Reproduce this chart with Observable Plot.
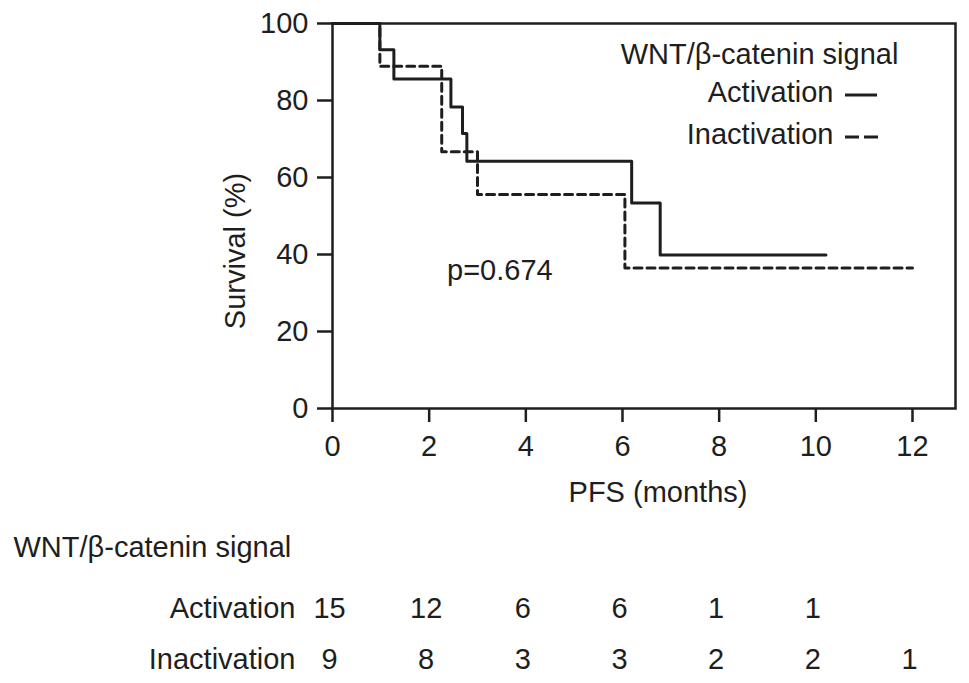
<!DOCTYPE html>
<html>
<head>
<meta charset="utf-8">
<script src="https://cdn.jsdelivr.net/npm/d3@7"></script>
<script src="https://cdn.jsdelivr.net/npm/@observablehq/plot@0.6"></script>
<style>
  html, body { margin: 0; padding: 0; background: #fff; }
</style>
</head>
<body>
<div id="chart"></div>
<script>
// ---- data ----
const activationTime = [0, 0.98, 1.27, 2.45, 2.69, 2.78, 6.19, 6.78, 10.21];
const activationSurv = [100, 93.2, 85.6, 78.3, 71.4, 64.2, 53.4, 39.9, 39.9];
const inactivationTime = [0, 0.98, 2.26, 3.0, 6.05, 12.0];
const inactivationSurv = [100, 88.9, 66.7, 55.6, 36.5, 36.5];

const xTicks = [0, 2, 4, 6, 8, 10, 12];
const yTicks = [0, 20, 40, 60, 80, 100];

const riskTimes = [0, 2, 4, 6, 8, 10, 12];
const activationRisk = [15, 12, 6, 6, 1, 1];
const inactivationRisk = [9, 8, 3, 3, 2, 2, 1];

const groupTitle = "WNT/β-catenin signal";
const groupNames = ["Activation", "Inactivation"];
const xLabel = "PFS (months)";
const yLabel = "Survival (%)";
const pText = "p=0.674";
const pPos = { t: 2.37, s: 35.8 };

// ---- build tables ----
const act = activationTime.map((t, i) => ({ t, s: activationSurv[i] }));
const inact = inactivationTime.map((t, i) => ({ t, s: inactivationSurv[i] }));
const riskAct = activationRisk.map((n, i) => ({ t: riskTimes[i], n }));
const riskInact = inactivationRisk.map((n, i) => ({ t: riskTimes[i], n }));

const ink = "#1e1e1e";
const font = "'Liberation Sans', Arial, Helvetica, sans-serif";
const fs = 29;
const txt = { fontSize: fs, fill: ink, lineAnchor: "middle" };

// legend line samples, positioned relative to the frame
const legendLines = (index, scales, values, dims) => {
  const g = d3.create("svg:g");
  const right = dims.width - dims.marginRight;
  const top = dims.marginTop;
  g.append("line")
    .attr("x1", right - 110).attr("x2", right - 78)
    .attr("y1", top + 72).attr("y2", top + 72)
    .attr("stroke", ink).attr("stroke-width", 3);
  g.append("line")
    .attr("x1", right - 110).attr("x2", right - 77)
    .attr("y1", top + 114).attr("y2", top + 114)
    .attr("stroke", ink).attr("stroke-width", 3)
    .attr("stroke-dasharray", "14,5");
  return g.node();
};

const chart = Plot.plot({
  width: 969,
  height: 683,
  marginLeft: 332,
  marginRight: 14,
  marginTop: 23,
  marginBottom: 275,
  style: { fontFamily: font, fontSize: fs + "px", color: ink, background: "#fff" },
  x: { domain: [0, 12.89] },
  y: { domain: [0, 100] },
  marks: [
    Plot.frame({ stroke: ink, strokeWidth: 2.5 }),
    Plot.axisY({ ticks: yTicks, tickSize: 15, tickPadding: 9, strokeWidth: 2.5, fontSize: fs, label: null }),
    Plot.axisX({ ticks: xTicks, tickSize: 14, tickPadding: 13, strokeWidth: 2.5, fontSize: fs, label: null }),
    Plot.line(inact, { x: "t", y: "s", curve: "step-after", stroke: ink, strokeWidth: 3, strokeDasharray: "8,5" }),
    Plot.line(act, { x: "t", y: "s", curve: "step-after", stroke: ink, strokeWidth: 3 }),
    Plot.text([pPos], { x: "t", y: "s", text: () => pText, textAnchor: "start", ...txt }),
    // axis labels
    Plot.text([yLabel], { text: d => d, frameAnchor: "left", textAnchor: "middle", rotate: -90, dx: -97, dy: 35, ...txt }),
    Plot.text([xLabel], { text: d => d, frameAnchor: "bottom", textAnchor: "middle", dx: 14, dy: 84, ...txt }),
    // legend
    Plot.text([groupTitle], { text: d => d, frameAnchor: "top-right", textAnchor: "middle", dx: -196, dy: 31, ...txt }),
    Plot.text([groupNames[0]], { text: d => d, frameAnchor: "top-right", textAnchor: "end", dx: -122, dy: 69, ...txt }),
    Plot.text([groupNames[1]], { text: d => d, frameAnchor: "top-right", textAnchor: "end", dx: -122, dy: 111, ...txt }),
    legendLines,
    // number at risk table
    Plot.text([groupTitle], { text: d => d, frameAnchor: "bottom-left", textAnchor: "start", dx: -319, dy: 139, ...txt }),
    Plot.text([groupNames[0]], { text: d => d, frameAnchor: "bottom-left", textAnchor: "end", dx: -37, dy: 200, ...txt }),
    Plot.text([groupNames[1]], { text: d => d, frameAnchor: "bottom-left", textAnchor: "end", dx: -37, dy: 251, ...txt }),
    Plot.text(riskAct, { x: "t", text: "n", frameAnchor: "bottom", textAnchor: "middle", dx: -3, dy: 200, ...txt }),
    Plot.text(riskInact, { x: "t", text: "n", frameAnchor: "bottom", textAnchor: "middle", dx: -3, dy: 251, ...txt })
  ]
});

document.getElementById("chart").appendChild(chart);
</script>
</body>
</html>
